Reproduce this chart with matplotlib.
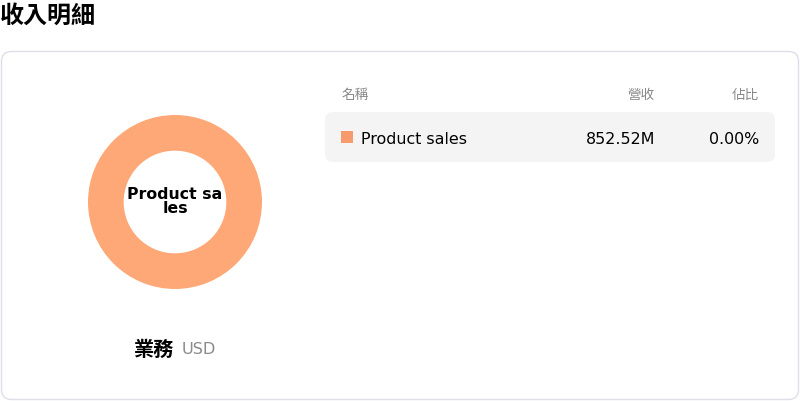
import matplotlib.pyplot as plt
from matplotlib.patches import FancyBboxPatch, Rectangle

plt.rcParams['font.family'] = ['DejaVu Sans', 'Noto Sans CJK TC']

# data
names = ["Product sales"]
revenue = [852.52]  # millions USD
share = [0.00]  # percent, as displayed
colors = ["#FFA877"]
key_colors = ["#F89B6C"]

W, H = 800, 402
fig = plt.figure(figsize=(W / 100, H / 100), dpi=100)

# pixel-coordinate canvas
bg = fig.add_axes([0, 0, 1, 1])
bg.set_xlim(0, W)
bg.set_ylim(H, 0)
bg.axis("off")

bg.text(0, 16, "收入明細", fontsize=17.3, fontweight="bold", va="center", ha="left")

card = FancyBboxPatch((1.5, 52.5), 797, 348, boxstyle="round,pad=0,rounding_size=10",
                      fc="white", ec="#E0DEE8", lw=1)
bg.add_patch(card)

# table header
hdr_color = "#888888"
bg.text(342, 95, "名稱", fontsize=9.8, color=hdr_color, va="center", ha="left")
bg.text(655, 95, "營收", fontsize=9.8, color=hdr_color, va="center", ha="right")
bg.text(759, 95, "佔比", fontsize=9.8, color=hdr_color, va="center", ha="right")

# table rows
row_h = 50
for i, name in enumerate(names):
    top = 113 + i * row_h
    mid = top + row_h / 2
    bg.add_patch(FancyBboxPatch((325, top), 450, row_h, boxstyle="round,pad=0,rounding_size=8",
                                fc="#F4F4F4", ec="none"))
    bg.add_patch(Rectangle((341, mid - 6.5), 12, 12, fc=key_colors[i], ec="none"))
    bg.text(361, mid + 1.5, name, fontsize=11.4, va="center", ha="left")
    bg.text(655, mid + 1.5, f"{revenue[i]:.2f}M", fontsize=11.4, va="center", ha="right")
    bg.text(759, mid + 1.5, f"{share[i]:.2f}%", fontsize=11.4, va="center", ha="right")

# footer label
bg.text(134, 350, "業務", fontsize=14.5, fontweight="bold", va="center", ha="left")
bg.text(182, 350, "USD", fontsize=11.6, color="#8A8A8A", va="center", ha="left")

# donut
cx, cy, r = 175, 203, 87
ax = fig.add_axes([(cx - r) / W, (H - cy - r) / H, 2 * r / W, 2 * r / H])
ax.pie(revenue, colors=colors, radius=1, startangle=90,
       wedgeprops=dict(width=0.41, edgecolor="none"))
ax.set_xlim(-1, 1)
ax.set_ylim(-1, 1)
ax.set_aspect("equal")
ax.axis("off")
ax.text(0, 0.02, "Product sa\nles", fontsize=11.3, fontweight="bold", ha="center", va="center",
        linespacing=0.95)

fig.savefig("out.png", dpi=100)
